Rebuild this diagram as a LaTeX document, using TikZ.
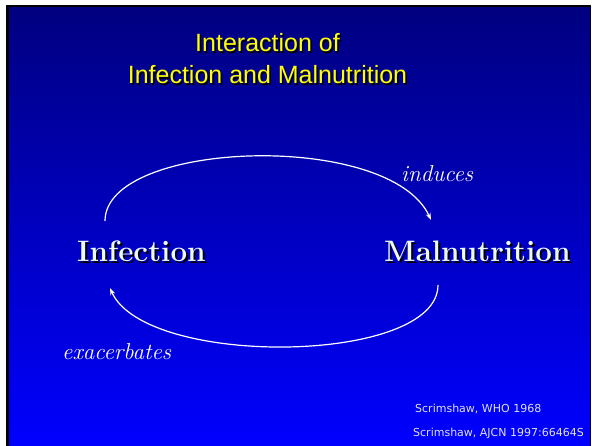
\documentclass[tikz,border=0pt]{standalone}
\usepackage{fontspec}
\newfontfamily\titlefont{Liberation Sans}
\newfontfamily\reffont{DejaVu Sans}
\usetikzlibrary{arrows.meta, positioning, calc}

\definecolor{slidetop}{RGB}{0,0,128}
\definecolor{slidebottom}{RGB}{0,0,255}
\definecolor{titleyellow}{RGB}{255,255,0}
\definecolor{wordwhite}{RGB}{236,250,250}
\definecolor{refwhite}{RGB}{225,225,255}

% text with a dark drop shadow behind it
\newcommand\dropshadow[2]{\rlap{\kern#1\raisebox{-#1}{\textcolor{black}{#2}}}#2}

\tikzset{
  titletext/.style={anchor=base, inner sep=0pt, text=titleyellow,
    font=\titlefont\fontsize{25}{25}\selectfont},
  bigword/.style={anchor=base west, inner sep=0pt, text=wordwhite,
    font=\bfseries\fontsize{29.6}{29.6}\selectfont},
  verbword/.style={anchor=base west, inner sep=0pt, text=white,
    font=\itshape\fontsize{23}{23}\selectfont},
  reftext/.style={anchor=base west, inner sep=0pt, text=refwhite,
    font=\reffont\fontsize{11}{11}\selectfont},
  cyclearrow/.style={white, line width=1.2pt, -{Stealth[length=7pt,width=5pt]}}
}

\begin{document}
\begin{tikzpicture}[x=1pt,y=-1pt]
\useasboundingbox (0,0) rectangle (592,446);

% slide frame and background
\fill[white] (0,0) rectangle (592,446);
\fill[black] (6,5) rectangle (591,446);
\shade[top color=slidetop, bottom color=slidebottom] (9,8) rectangle (590,446);

% title
\node[titletext] (titlea) at (267.5,52) {\dropshadow{1.5pt}{Interaction of}};
\node[titletext] (titleb) at (267.5,84) {\dropshadow{1.5pt}{Infection and Malnutrition}};

% the two states
\node[bigword] (inf) at (77,262) {\dropshadow{2pt}{Infection}};
\node[bigword] (mal) at (384,262) {\dropshadow{2pt}{Malnutrition}};

% the cycle
\draw[cyclearrow] ([shift={(28,-41)}]inf.base west)
  .. controls +(0,-81) and +(-41,-90) .. ([shift={(47,-42)}]mal.base west);
\draw[cyclearrow] ([shift={(54,23)}]mal.base west)
  .. controls +(0,80) and +(35,80) .. ([shift={(33,26)}]inf.base west);

\node[verbword] (induces) at (401,182) {induces};
\node[verbword] (exacerb) at (62,360) {exacerbates};

% references
\node[reftext] (refwho) at (415,413) {Scrimshaw, WHO 1968};
\node[reftext] (refajcn) at (413,436) {Scrimshaw, AJCN 1997:66464S};
\end{tikzpicture}
\end{document}
